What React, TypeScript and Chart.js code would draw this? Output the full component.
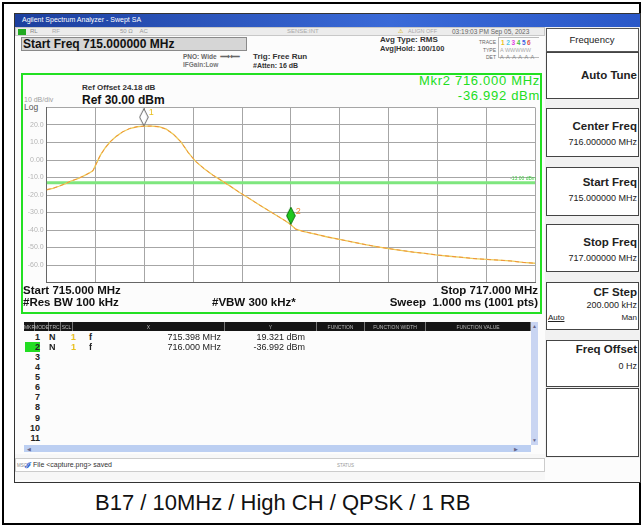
import React, { useEffect, useRef } from "react";
import { Chart, registerables } from "chart.js";

Chart.register(...registerables);

// ---------- chart data ----------
const startFreqMHz = 715.0;
const stopFreqMHz = 717.0;
const freqStepMHz = 0.2;
const refLevelDbm = 30;
const bottomLevelDbm = -70;
const dbPerDiv = 10;

const traceFreqMHz = [
  715.0, 715.025, 715.05, 715.075, 715.1, 715.125, 715.15, 715.175, 715.19, 715.205,
  715.22, 715.24, 715.26, 715.285, 715.31, 715.34, 715.37, 715.398, 715.43, 715.46,
  715.49, 715.52, 715.55, 715.58, 715.61, 715.645, 715.68, 715.71, 715.75, 715.79,
  715.83, 715.87, 715.91, 715.95, 715.98, 716.0, 716.02, 716.05, 716.1, 716.15,
  716.2, 716.25, 716.3, 716.35, 716.4, 716.45, 716.5, 716.55, 716.6, 716.65,
  716.7, 716.75, 716.8, 716.85, 716.9, 716.95, 717.0,
];
const traceLevelDbm = [
  -17.0, -16.2, -15.0, -13.6, -12.0, -10.8, -9.2, -7.4, -6.0, -1.5,
  2.8, 7.0, 10.4, 13.5, 16.0, 18.0, 19.0, 19.3, 19.4, 19.0,
  17.6, 14.6, 10.3, 4.2, -0.8, -5.0, -8.6, -11.2, -14.8, -18.6,
  -22.0, -25.6, -29.0, -32.4, -35.0, -36.992, -39.5, -40.8, -42.3, -44.0,
  -45.4, -46.8, -48.2, -49.5, -50.6, -51.6, -52.6, -53.4, -54.3, -55.0,
  -55.6, -56.3, -56.8, -57.2, -57.7, -58.5, -59.0,
];
const markerFreqMHz = [715.398, 716.0];
const markerLevelDbm = [19.321, -36.992];
const markerLabels = ["1", "2"];
const displayLineDbm = -13;

const FONT = '"Liberation Sans", Arial, sans-serif';

type TP = {
  x: number; y: number; s: number; t: string; b?: boolean; c?: string;
  a?: "l" | "r" | "c"; ls?: number; u?: boolean;
};
const Txt = ({ x, y, s, t, b, c, a = "l", ls, u }: TP) => {
  const st: any = {
    position: "absolute",
    top: y - 0.59 * s,
    fontSize: s,
    lineHeight: `${1.2 * s}px`,
    fontWeight: b ? 700 : 400,
    color: c || "#222",
    whiteSpace: "pre",
    fontFamily: FONT,
    letterSpacing: ls,
    textDecoration: u ? "underline" : undefined,
  };
  if (a === "l") st.left = x;
  else if (a === "r") st.right = 642 - x;
  else { st.left = x; st.transform = "translateX(-50%)"; }
  return <div style={st}>{t}</div>;
};

const Box = ({ x, y, w, h, bg, bd, extra }: any) => (
  <div style={{ position: "absolute", left: x, top: y, width: w, height: h, background: bg, border: bd, boxSizing: "border-box", ...(extra || {}) }} />
);

function makeDiamond(fill: string, stroke: string) {
  const c = document.createElement("canvas");
  c.width = 10;
  c.height = 36;
  const g = c.getContext("2d")!;
  g.beginPath();
  g.moveTo(5, 0.5);
  g.lineTo(9.3, 9);
  g.lineTo(5, 17.5);
  g.lineTo(0.7, 9);
  g.closePath();
  g.fillStyle = fill;
  g.fill();
  g.strokeStyle = stroke;
  g.lineWidth = 1;
  g.stroke();
  return c;
}

function SpectrumChart() {
  const ref = useRef<HTMLCanvasElement>(null);
  useEffect(() => {
    const trace = traceFreqMHz.map((f, i) => ({ x: f, y: traceLevelDbm[i] }));
    const markers = markerFreqMHz.map((f, i) => ({ x: f, y: markerLevelDbm[i] }));
    const dl = [
      { x: startFreqMHz, y: displayLineDbm },
      { x: stopFreqMHz, y: displayLineDbm },
    ];
    const imgs = [makeDiamond("#ffffff", "#666666"), makeDiamond("#1ec81e", "#0a700a")];
    const labelColors = ["#e8c020", "#f08a30"];

    const bgPlugin = {
      id: "bg",
      beforeDraw(chart: any) {
        const { ctx, chartArea: a } = chart;
        ctx.save();
        ctx.fillStyle = "#ffffff";
        ctx.fillRect(a.left, a.top, a.right - a.left, a.bottom - a.top);
        ctx.restore();
      },
    };
    const labelPlugin = {
      id: "mlabels",
      afterDatasetsDraw(chart: any) {
        const { ctx, scales } = chart;
        ctx.save();
        ctx.font = `9px ${FONT}`;
        markerLabels.forEach((l, i) => {
          const px = scales.x.getPixelForValue(markerFreqMHz[i]);
          const py = scales.y.getPixelForValue(markerLevelDbm[i]);
          ctx.fillStyle = labelColors[i];
          ctx.fillText(l, px + 5, py - 11);
        });
        ctx.restore();
      },
    };

    const chart = new Chart(ref.current!, {
      type: "line",
      data: {
        datasets: [
          {
            label: "markers",
            data: markers,
            showLine: false,
            pointStyle: imgs as any,
            pointRadius: 5,
          } as any,
          {
            label: "trace2",
            data: trace,
            borderColor: "#f0903c",
            borderWidth: 1,
            borderDash: [4, 3],
            pointRadius: 0,
            tension: 0,
          },
          {
            label: "trace1",
            data: trace,
            borderColor: "#eccd5a",
            borderWidth: 1.3,
            pointRadius: 0,
            tension: 0,
          },
          {
            label: "display line",
            data: dl,
            borderColor: "#7ee67e",
            borderWidth: 3,
            pointRadius: 0,
          },
        ],
      },
      options: {
        animation: false,
        responsive: false,
        devicePixelRatio: 1,
        layout: { padding: { top: 7.5, bottom: 7.5, right: 2.3, left: 0 } },
        plugins: { legend: { display: false }, tooltip: { enabled: false } },
        scales: {
          x: {
            type: "linear",
            min: startFreqMHz,
            max: stopFreqMHz,
            ticks: { display: false, stepSize: freqStepMHz },
            grid: { color: "#a6a6a6", lineWidth: 1, drawTicks: false },
            border: { display: true, color: "#666", width: 1 },
            afterFit: (s: any) => { s.height = 0; },
          },
          y: {
            type: "linear",
            min: bottomLevelDbm,
            max: refLevelDbm,
            ticks: {
              stepSize: dbPerDiv,
              color: "#b4b4b4",
              font: { size: 7, family: FONT },
              padding: 3,
              callback: (v: any) =>
                v === refLevelDbm || v === bottomLevelDbm ? "" : v === 0 ? "0.00" : Number(v).toFixed(1),
            },
            grid: { color: "#a6a6a6", lineWidth: 1, drawTicks: false },
            border: { display: true, color: "#666", width: 1 },
            afterFit: (s: any) => { s.width = 24.7; },
          },
        },
      } as any,
      plugins: [bgPlugin, labelPlugin],
    });
    return () => chart.destroy();
  }, []);
  return (
    <canvas
      ref={ref}
      width={519}
      height={190}
      style={{ position: "absolute", left: 22, top: 100, width: 519, height: 190 }}
    />
  );
}

const rowsY = [337, 347, 357, 367, 377, 387, 397.5, 407.5, 418, 428, 438];

export default function App() {
  const panel = [
    { top: 52, bot: 99, title: "Auto Tune", ty: 76 },
    { top: 108, bot: 157, title: "Center Freq", ty: 127, val: "716.000000 MHz", vy: 142 },
    { top: 167, bot: 216, title: "Start Freq", ty: 183, val: "715.000000 MHz", vy: 198 },
    { top: 224, bot: 272, title: "Stop Freq", ty: 243, val: "717.000000 MHz", vy: 258 },
    { top: 282, bot: 330, title: "CF Step", ty: 293, val: "200.000 kHz", vy: 305 },
    { top: 340, bot: 387, title: "Freq Offset", ty: 350, val: "0 Hz", vy: 366 },
    { top: 388, bot: 457 },
  ];
  return (
    <div style={{ position: "absolute", left: 0, top: 0, width: 642, height: 527, background: "#fff", overflow: "hidden", fontFamily: FONT }}>
      {/* outer frame */}
      <Box x={2} y={2} w={639} h={523} bd="2px solid #000" />
      {/* screenshot frame */}
      <Box x={14} y={13} w={627} h={470} bg="#fcfcfc" bd="1.5px solid #333" />
      {/* title bar */}
      <div style={{ position: "absolute", left: 15, top: 14, width: 625, height: 13, background: "linear-gradient(90deg,#1c3f9e,#3a6ad8 60%,#2a58c8)" }} />
      <Txt x={22} y={20.5} s={7} t="Agilent Spectrum Analyzer - Swept SA" c="#fff" />
      {/* toolbar row */}
      <Box x={15} y={27} w={530} h={9} bg="#ececec" bd="1px solid #c8c8c8" />
      <Box x={18} y={28.5} w={8} h={6} bg="#2a2" />
      <Txt x={30} y={31.5} s={6} t="RL" c="#888" />
      <Txt x={52} y={31.5} s={6} t="RF" c="#aaa" />
      <Txt x={120} y={31.5} s={6} t="50 Ω    AC" c="#999" />
      <Txt x={287} y={31.5} s={6} t="SENSE:INT" c="#aaa" />
      <Txt x={398} y={31.5} s={6} t="⚠" c="#d8b000" />
      <Txt x={408} y={31.5} s={5.5} t="ALIGN OFF" c="#aaa" />
      <Txt x={452} y={32} s={6.5} t="03:19:03 PM Sep 05, 2023" c="#666" />
      {/* start freq entry */}
      <Box x={21} y={37} w={226} h={14} bg="#d6d6d6" bd="1px solid #8a8a8a" />
      <Txt x={23} y={44} s={12} b t="Start Freq 715.000000 MHz" c="#111" />
      <Txt x={183} y={57} s={6.5} b t="PNO: Wide  ⟶⟵" c="#666" />
      <Txt x={183} y={65} s={6.5} b t="IFGain:Low" c="#777" />
      <Txt x={253} y={57} s={8} b t="Trig: Free Run" c="#333" />
      <Txt x={253} y={66} s={7} b t="#Atten: 16 dB" c="#333" />
      <Txt x={380} y={40} s={8} b t="Avg Type: RMS" c="#333" />
      <Txt x={380} y={48.5} s={7.5} b t="Avg|Hold: 100/100" c="#333" />
      <Txt x={496} y={42} s={5} t="TRACE" a="r" c="#666" />
      <Box x={498} y={37} w={41} h={21} bd="1px solid #bbb" extra={{ borderRight: "none" }} />
      <div style={{ position: "absolute", left: 501, top: 38.5, fontSize: 6.5, lineHeight: "7px", fontFamily: FONT, fontWeight: 700, letterSpacing: 1.6, whiteSpace: "pre" }}>
        <span style={{ color: "#e8c020" }}>1</span>
        <span style={{ color: "#50c8e8" }}>2</span>
        <span style={{ color: "#e040e0" }}>3</span>
        <span style={{ color: "#40c040" }}>4</span>
        <span style={{ color: "#4060e0" }}>5</span>
        <span style={{ color: "#e05050" }}>6</span>
      </div>
      <Txt x={496} y={50} s={5} t="TYPE" a="r" c="#666" />
      <Txt x={500} y={50} s={5.5} t="A WWWWW" c="#aaa" />
      <Txt x={496} y={57} s={5} t="DET" a="r" c="#666" />
      <Txt x={500} y={57} s={5.5} t="A  A  A  A  A  A" c="#888" />

      {/* right soft-key panel */}
      <Box x={545} y={27} w={95} h={431} bg="#f1f1f1" />
      <Box x={546} y={28} w={93} h={24} bg="#fff" bd="1px solid #555" />
      <Txt x={592} y={39.5} s={9.5} t="Frequency" a="c" c="#222" />
      {panel.map((p, i) => (
        <React.Fragment key={i}>
          <Box x={546} y={p.top} w={93} h={p.bot - p.top} bg="#fff" bd="1px solid #444" />
          {p.title && <Txt x={637} y={p.ty!} s={11.5} b t={p.title} a="r" c="#222" />}
          {p.val && <Txt x={637} y={p.vy!} s={9} t={p.val} a="r" c="#222" />}
        </React.Fragment>
      ))}
      <Txt x={548} y={318} s={8} t="Auto" c="#222" u />
      <Txt x={637} y={318} s={8} t="Man" a="r" c="#222" />

      {/* measurement frame */}
      <Box x={21} y={73} w={521} h={241} bd="2px solid #22e022" />
      <Txt x={82} y={88} s={8} b t="Ref Offset 24.18 dB" c="#333" />
      <Txt x={82} y={100} s={12} b t="Ref 30.00 dBm" c="#111" />
      <Txt x={24} y={100} s={7} t="10 dB/div" c="#a0a0a0" />
      <Txt x={24} y={107.5} s={8.5} t="Log" c="#555" />
      <Txt x={540} y={81} s={13} t="Mkr2 716.000 MHz" a="r" c="#22dd22" ls={0.7} />
      <Txt x={540} y={96} s={13} t="-36.992 dBm" a="r" c="#22dd22" ls={0.7} />

      <SpectrumChart />
      <Txt x={536} y={177.5} s={5} t="-13.00 dBm" a="r" c="#4c4" />

      <Txt x={23} y={291} s={11.5} b t="Start 715.000 MHz" c="#111" />
      <Txt x={23} y={303} s={11.5} b t="#Res BW 100 kHz" c="#111" />
      <Txt x={212} y={303} s={11.5} b t="#VBW 300 kHz*" c="#111" />
      <Txt x={538} y={291} s={11.5} b t="Stop 717.000 MHz" a="r" c="#111" />
      <Txt x={538} y={303} s={11.5} b t="Sweep  1.000 ms (1001 pts)" a="r" c="#111" />

      {/* marker table */}
      <Box x={24} y={322} w={506} h={9} bg="#151515" />
      {[
        [25, 34, "MKR"], [35, 48, "MODE"], [49, 60, "TRC"], [61, 72, "SCL"],
        [73, 224, "X"], [225, 316, "Y"], [317, 364, "FUNCTION"],
        [365, 425, "FUNCTION WIDTH"], [426, 530, "FUNCTION VALUE"],
      ].map(([a, b, t]: any, i) => (
        <React.Fragment key={i}>
          <div style={{ position: "absolute", left: b, top: 322, width: 1, height: 9, background: "#777" }} />
          <Txt x={(a + b) / 2} y={326.5} s={5} t={t} a="c" c="#bbb" />
        </React.Fragment>
      ))}
      <Box x={25} y={342} w={15} h={10} bg="#22dd22" />
      {rowsY.map((y, i) => (
        <Txt key={i} x={40} y={y} s={9} b t={String(i + 1)} a="r" c="#222" />
      ))}
      {markerFreqMHz.map((f, i) => (
        <React.Fragment key={i}>
          <Txt x={49} y={rowsY[i]} s={9} b t="N" c="#222" />
          <Txt x={71} y={rowsY[i]} s={9} b t="1" c="#e8c020" />
          <Txt x={89} y={rowsY[i]} s={9} b t="f" c="#222" />
          <Txt x={221} y={rowsY[i]} s={9} t={`${f.toFixed(3)} MHz`} a="r" c="#222" />
          <Txt x={305} y={rowsY[i]} s={9} t={`${markerLevelDbm[i].toFixed(3)} dBm`} a="r" c="#222" />
        </React.Fragment>
      ))}
      <Box x={531} y={322} w={7} h={123} bg="#c9d5f2" />
      <Txt x={534.5} y={326} s={5} t="▲" a="c" c="#668" />
      <Txt x={534.5} y={440} s={5} t="▼" a="c" c="#668" />
      <Box x={24} y={445} w={507} h={7} bg="#bccff2" />
      <Txt x={27} y={448.5} s={5} t="◀" c="#668" />
      <Txt x={514} y={448.5} s={5} t="▶" c="#668" />

      {/* status bar */}
      <Box x={15} y={454} w={530} h={26} bg="#f7f7f7" />
      <Box x={15} y={458} w={530} h={14} bg="#fff" bd="1px solid #ccc" />
      <Txt x={17} y={465.5} s={4.5} t="MSG" c="#888" />
      <Txt x={25} y={465.5} s={8} b t="ℐ" c="#2a5fd0" />
      <Txt x={33} y={465.5} s={7} t="File <capture.png> saved" c="#333" />
      <Txt x={337} y={465.5} s={4.5} t="STATUS" c="#999" />

      {/* caption */}
      <Txt x={95} y={503} s={22} t="B17 / 10MHz / High CH / QPSK / 1 RB" c="#111" />
    </div>
  );
}
